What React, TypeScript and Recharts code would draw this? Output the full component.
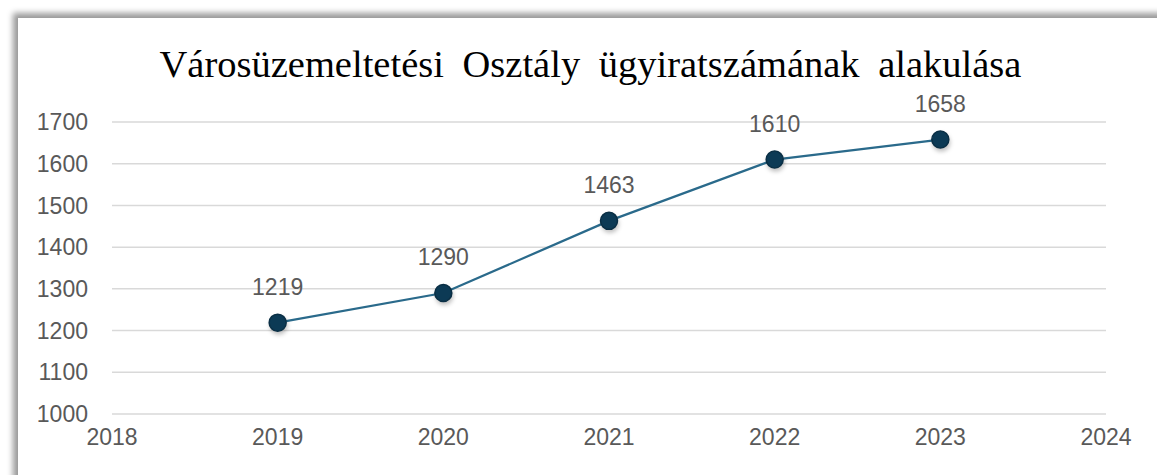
import React from "react";
import { LineChart, Line, XAxis, YAxis, CartesianGrid, LabelList } from "recharts";

const years = [2019, 2020, 2021, 2022, 2023];
const counts = [1219, 1290, 1463, 1610, 1658];
const xTicks = [2018, 2019, 2020, 2021, 2022, 2023, 2024];
const yTicks = [1000, 1100, 1200, 1300, 1400, 1500, 1600, 1700];
const title = "Városüzemeltetési Osztály ügyiratszámának alakulása";

const data = years.map((y, i) => ({ year: y, value: counts[i] }));

const Dot = (props: any) => {
  const { cx, cy } = props;
  if (cx == null || cy == null) return null;
  return (
    <g>
      <circle cx={cx + 1} cy={cy + 3} r={9} fill="rgba(0,0,0,0.25)" filter="url(#blurDot)" />
      <circle cx={cx} cy={cy} r={8.5} fill="#0c3a55" stroke="#0a2f45" strokeWidth={1.5} />
    </g>
  );
};

const tickFont = { fill: "#595959", fontSize: 23, fontFamily: "'Liberation Sans', Arial, sans-serif" };

export default function App() {
  return (
    <div style={{ position: "fixed", left: 0, top: 0, width: 1157, height: 475, overflow: "hidden", background: "#fff" }}>
      <div
        style={{
          position: "absolute",
          left: 18,
          top: 18,
          width: 1160,
          height: 470,
          background: "#fff",
          boxShadow: "-4px -4px 6px 1px rgba(0,0,0,0.4)",
        }}
      >
        <div
          style={{
            position: "absolute",
            left: 3,
            top: 24,
            width: 1139,
            textAlign: "center",
            fontFamily: "'Liberation Serif', 'Times New Roman', serif",
            fontSize: 38.5,
            color: "#000",
            wordSpacing: 9,
            lineHeight: "44px",
            whiteSpace: "nowrap",
          }}
        >
          {title}
        </div>
        <LineChart
          width={1139}
          height={457}
          data={data}
          margin={{ top: 104, right: 51, bottom: 31, left: 14 }}
          style={{ position: "absolute", left: 0, top: 0 }}
        >
          <defs>
            <filter id="blurDot" x="-50%" y="-50%" width="200%" height="200%">
              <feGaussianBlur stdDeviation="2" />
            </filter>
          </defs>
          <CartesianGrid horizontal vertical={false} stroke="#d9d9d9" strokeWidth={1.5} />
          <XAxis
            dataKey="year"
            type="number"
            domain={[2018, 2024]}
            ticks={xTicks}
            axisLine={false}
            tickLine={false}
            tickSize={0}
            tickMargin={15}
            height={30}
            tick={tickFont}
          />
          <YAxis
            type="number"
            domain={[1000, 1700]}
            ticks={yTicks}
            axisLine={false}
            tickLine={false}
            tickSize={0}
            tickMargin={24}
            width={80}
            interval={0}
            tick={tickFont}
          />
          <Line
            dataKey="value"
            stroke="#2a6a8b"
            strokeWidth={2.25}
            dot={<Dot />}
            activeDot={false}
            isAnimationActive={false}
          >
            <LabelList
              dataKey="value"
              position="top"
              offset={28}
              fill="#595959"
              fontSize={23}
              fontFamily="'Liberation Sans', Arial, sans-serif"
            />
          </Line>
        </LineChart>
      </div>
    </div>
  );
}
